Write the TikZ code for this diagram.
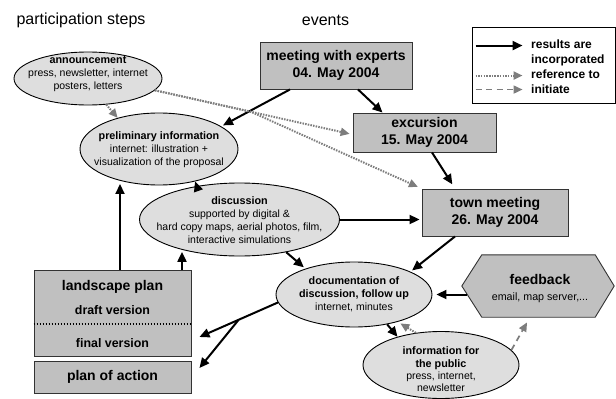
\documentclass[tikz,border=0pt]{standalone}
\usepackage{fontspec}
\setmainfont{Liberation Sans}
\usetikzlibrary{arrows.meta,shapes.geometric,calc}
\definecolor{boxgray}{RGB}{192,192,192}
\definecolor{ovalgray}{RGB}{222,222,222}
\definecolor{refgray}{RGB}{125,125,125}
\newcommand{\otitlefont}{\fontsize{10.8}{13}\selectfont\bfseries}
\begin{document}
\begin{tikzpicture}[x=1pt,y=-1pt,
  box/.style={rectangle, draw=black!80, line width=0.9pt, fill=boxgray, inner sep=0pt},
  oval/.style={ellipse, draw=black, line width=0.9pt, fill=ovalgray, inner sep=0pt},
  boxtext/.style={align=center, font=\fontsize{14}{16.5}\selectfont\bfseries},
  otext/.style={inner sep=0pt, align=center, font=\fontsize{10.5}{13}\selectfont},
  head/.style={inner sep=0pt, font=\fontsize{16}{18}\selectfont},
  res/.style={-{Triangle[length=10pt,width=9pt]}, line width=2pt, black, shorten >=2pt},
  ref/.style={-{Triangle[length=9pt,width=8pt]}, line width=2pt, refgray, dash pattern=on 1.5pt off 1.2pt},
  ini/.style={-{Triangle[length=9pt,width=8pt]}, line width=1.7pt, refgray, dash pattern=on 6pt off 4.5pt},
]
\useasboundingbox (0,0) rectangle (616,399);

% column headings
\node[head] (hdr-steps) at (81,20) {participation steps};
\node[head] (hdr-events) at (325.5,20) {events};

% events
\node[box, minimum width=152pt, minimum height=47pt, boxtext] (experts) at (336,65.5) {meeting with experts\\04. May 2004};
\node[box, minimum width=143pt, minimum height=39pt, boxtext, font=\fontsize{14}{17.5}\selectfont\bfseries] (excursion) at (424.5,132.5) {excursion\\15. May 2004};
\node[box, minimum width=146pt, minimum height=47pt, boxtext, font=\fontsize{14}{17}\selectfont\bfseries] (town) at (495,212.5) {town meeting\\26. May 2004};

% participation steps
\node[oval, minimum width=148pt, minimum height=53pt] (announce) at (88,78.5) {};
\node[otext] (announce-t) at (88,74) {{\otitlefont announcement}\\press, newsletter, internet\\posters, letters};

\node[oval, minimum width=158pt, minimum height=72pt] (prelim) at (159,149) {};
\node[otext] (prelim-t) at (159,150) {{\otitlefont preliminary information}\\internet: illustration +\\visualization of the proposal};

\node[oval, minimum width=200pt, minimum height=73pt] (disc) at (239.5,219.5) {};
\node[otext] (disc-t) at (239.5,220.5) {{\otitlefont discussion}\\supported by digital \&\\hard copy maps, aerial photos, film,\\interactive simulations};

\node[oval, minimum width=156pt, minimum height=65pt] (docu) at (354,294.5) {};
\node[otext] (docu-t) at (354,294.5) {{\otitlefont documentation of}\\{\otitlefont discussion, follow up}\\internet, minutes};

\node[oval, minimum width=156pt, minimum height=67pt] (info) at (441,365) {};
\node[otext, font=\fontsize{10.5}{12.4}\selectfont] (info-t) at (441,369.5) {{\otitlefont information for}\\{\otitlefont the public}\\press, internet,\\newsletter};

% feedback hexagon
\node[minimum width=152pt, minimum height=62pt, inner sep=0pt] (feedback) at (538,286) {};
\draw[box] (feedback.west) -- ($(feedback.north west)+(20,0)$) -- ($(feedback.north east)+(-19,0)$)
  -- (feedback.east) -- ($(feedback.south east)+(-19,0)$) -- ($(feedback.south west)+(20,0)$) -- cycle;
\node[otext, font=\fontsize{10.7}{16}\selectfont] (feedback-t) at (540,289) {{\fontsize{14}{16}\selectfont\bfseries feedback}\\email, map server,...};

% plans
\node[box, minimum width=157pt, minimum height=86pt] (landscape) at (112.5,313) {};
\draw[line width=1.6pt, dash pattern=on 1.6pt off 1.4pt] ($(landscape.west)+(0,11)$) -- ($(landscape.east)+(0,11)$);
\node[inner sep=0pt, font=\fontsize{14}{16}\selectfont\bfseries] (landscape-t) at (112.5,287) {landscape plan};
\node[inner sep=0pt, font=\fontsize{12.4}{14}\selectfont\bfseries] (draft-t) at (112.5,310) {draft version};
\node[inner sep=0pt, font=\fontsize{12.4}{14}\selectfont\bfseries] (final-t) at (112.5,343) {final version};
\node[box, minimum width=157pt, minimum height=32pt, font=\fontsize{14}{16}\selectfont\bfseries] (action) at (112.5,377) {plan of action};

% legend
\node[draw, line width=0.9pt, minimum width=143pt, minimum height=76pt, inner sep=0pt] (legend) at (543.5,65) {};
\node[anchor=west, inner sep=0pt, align=left, font=\fontsize{12}{15}\selectfont\bfseries] (legend-t) at (531,66.5) {results are\\incorporated\\reference to\\initiate};
\coordinate (lg-r1) at ($(legend.north west)+(4,19)$);
\coordinate (lg-r2) at ($(legend.north west)+(51,19)$);
\coordinate (lg-f1) at ($(legend.north west)+(4,49)$);
\coordinate (lg-f2) at ($(legend.north west)+(51,49)$);
\coordinate (lg-i1) at ($(legend.north west)+(4,63)$);
\coordinate (lg-i2) at ($(legend.north west)+(51,63)$);
\draw[res, shorten >=0pt] (lg-r1) -- (lg-r2);
\draw[ref] (lg-f1) -- (lg-f2);
\draw[ini] (lg-i1) -- (lg-i2);

% results are incorporated
\draw[res] ([xshift=-46pt]experts.south) -- (prelim.20);
\draw[res, shorten >=0pt] ([xshift=22pt]experts.south) -- ([xshift=-42pt]excursion.north);
\draw[res, shorten >=5pt] ([xshift=7.5pt]excursion.south) -- ([xshift=-40pt]town.north);
\draw[res] ([xshift=-40pt]town.south) -- (docu.22);
\draw[res] (disc.east) -- (disc.east -| town.west);
\draw[res] (disc.-35) -- (docu.152);
\draw[res, shorten >=0pt] (docu.-42) -- (info.147);
\draw[res, shorten >=4pt] ($(feedback.west |- docu.east)+(5,0)$) -- (docu.east);
\coordinate (lp-a) at ([xshift=7.5pt]landscape.north);
\draw[res, shorten >=3pt] (lp-a) -- (lp-a |- prelim.-140);
\coordinate (lp-b) at ([xshift=69.5pt]landscape.north);
\draw[res] (lp-b) -- (lp-b |- disc.-152);
\draw[res, shorten >=0pt] (disc.142) -- (prelim.-42);
\coordinate (lp-in) at ($(landscape.east)+(8,24)$);
\coordinate (pa-in) at ($(action.east)+(8,-9)$);
\draw[res, shorten >=0pt] (docu.186) -- (lp-in);
\coordinate (fork) at ($(docu.186)!0.5!(lp-in)$);
\draw[res, shorten >=0pt] (fork) -- (pa-in);

% reference to
\draw[ref] (announce.-55) -- (prelim.143);
\draw[ref, shorten >=3pt] (announce.-10) -- ([yshift=-2pt]excursion.west);
\coordinate (kink) at ($(announce.-10)!0.485!([yshift=-2pt]excursion.west)$);
\draw[ref, shorten >=4pt] (announce.-10) -- (kink) -- (town.north west);
\draw[ref, shorten >=3pt] (info.128) -- (docu.-32);

% initiate
\draw[ini, shorten >=6pt] (info.12) -- ([xshift=-8pt]feedback.south);
\end{tikzpicture}
\end{document}
